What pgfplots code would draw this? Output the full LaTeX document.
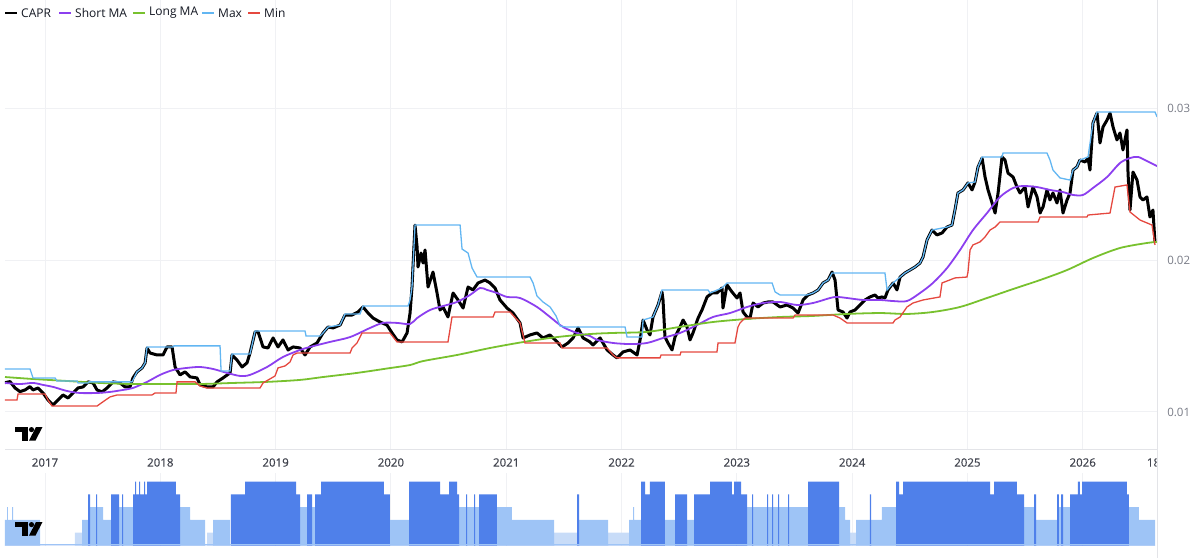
\documentclass[border=0pt]{standalone}
\usepackage{pgfplots}
\pgfplotsset{compat=1.18}
\usepackage{fontspec}
\setmainfont{Open Sans}
\definecolor{capr}{HTML}{000000}
\definecolor{shortma}{HTML}{8C3FEF}
\definecolor{longma}{HTML}{78C12E}
\definecolor{maxc}{HTML}{62B6F2}
\definecolor{minc}{HTML}{E5483F}
\definecolor{gridc}{HTML}{F0F1F4}
\definecolor{sepc}{HTML}{E3E4E8}
\definecolor{darkbar}{HTML}{4F80EA}
\definecolor{lightbar}{HTML}{9EC4F6}
\definecolor{lightestbar}{HTML}{C8DCF8}
\definecolor{txt}{HTML}{131722}
\definecolor{axtxt}{HTML}{42454F}
\definecolor{ytxt}{HTML}{787B86}
\begin{document}
\begin{tikzpicture}[x=1pt,y=1pt]
\useasboundingbox (0,0) rectangle (1200,558);
% ---------------- main pane ----------------
\begin{axis}[
  at={(5pt,109pt)}, anchor=south west, scale only axis,
  width=1152pt, height=449pt,
  xmin=2016.653, xmax=2026.645, ymin=0.007564, ymax=0.037108,
  axis line style={draw=none}, major tick length=0pt,
  xtick={2017,2018,2019,2020,2021,2022,2023,2024,2025,2026},
  xticklabels={2017,2018,2019,2020,2021,2022,2023,2024,2025,2026},
  ytick={0.01,0.02,0.03}, yticklabels={0.01,0.02,0.03},
  yticklabel pos=right,
  grid=major, grid style={gridc, line width=1pt},
  xticklabel style={anchor=center, yshift=-13.5pt, font=\fontsize{11.5}{13}\selectfont\addfontfeatures{FakeBold=0.6}, text=axtxt},
  yticklabel style={anchor=west, inner sep=0pt, xshift=10pt, font=\fontsize{11.5}{13}\selectfont, text=ytxt},
]
% CAPR
\addplot[capr, line width=3pt, line join=round] coordinates {
(2016.653,0.01193)(2016.697,0.01200)(2016.740,0.01158)(2016.783,0.01134)(2016.827,0.01145)(2016.870,0.01167)(2016.896,0.01145)(2016.940,0.01158)(2016.983,0.01125)(2017.026,0.01079)(2017.070,0.01046)(2017.113,0.01079)(2017.156,0.01112)(2017.200,0.01092)(2017.243,0.01125)(2017.286,0.01158)(2017.330,0.01165)(2017.373,0.01198)(2017.417,0.01191)(2017.451,0.01145)(2017.495,0.01132)(2017.538,0.01158)(2017.590,0.01198)(2017.651,0.01191)(2017.694,0.01165)(2017.737,0.01165)(2017.763,0.01224)(2017.798,0.01264)(2017.842,0.01290)(2017.868,0.01323)(2017.885,0.01421)(2017.911,0.01388)(2017.972,0.01375)(2018.024,0.01375)(2018.058,0.01428)(2018.102,0.01428)(2018.128,0.01296)(2018.171,0.01244)(2018.214,0.01264)(2018.258,0.01231)(2018.318,0.01224)(2018.345,0.01178)(2018.405,0.01165)(2018.457,0.01165)(2018.492,0.01198)(2018.544,0.01224)(2018.605,0.01257)(2018.622,0.01375)(2018.665,0.01342)(2018.709,0.01296)(2018.752,0.01323)(2018.778,0.01388)(2018.822,0.01527)(2018.848,0.01527)(2018.891,0.01428)(2018.934,0.01421)(2018.978,0.01487)(2019.021,0.01428)(2019.064,0.01474)(2019.108,0.01408)(2019.151,0.01428)(2019.212,0.01421)(2019.255,0.01375)(2019.299,0.01428)(2019.359,0.01454)(2019.411,0.01520)(2019.455,0.01559)(2019.498,0.01553)(2019.559,0.01572)(2019.602,0.01638)(2019.663,0.01638)(2019.715,0.01658)(2019.758,0.01691)(2019.802,0.01651)(2019.845,0.01618)(2019.906,0.01592)(2019.966,0.01572)(2020.010,0.01520)(2020.053,0.01474)(2020.097,0.01461)(2020.140,0.01520)(2020.166,0.01651)(2020.183,0.01822)(2020.209,0.02230)(2020.227,0.02086)(2020.235,0.01954)(2020.261,0.02046)(2020.279,0.01980)(2020.296,0.02066)(2020.322,0.01822)(2020.365,0.01921)(2020.400,0.01783)(2020.426,0.01671)(2020.452,0.01691)(2020.495,0.01625)(2020.539,0.01783)(2020.582,0.01737)(2020.626,0.01684)(2020.669,0.01822)(2020.712,0.01803)(2020.756,0.01849)(2020.816,0.01868)(2020.860,0.01849)(2020.903,0.01816)(2020.946,0.01737)(2021.007,0.01684)(2021.059,0.01651)(2021.120,0.01586)(2021.146,0.01487)(2021.207,0.01507)(2021.267,0.01520)(2021.319,0.01487)(2021.380,0.01507)(2021.441,0.01461)(2021.484,0.01428)(2021.536,0.01454)(2021.580,0.01487)(2021.623,0.01553)(2021.667,0.01487)(2021.727,0.01461)(2021.753,0.01441)(2021.814,0.01487)(2021.875,0.01408)(2021.927,0.01375)(2021.961,0.01356)(2022.013,0.01395)(2022.074,0.01408)(2022.135,0.01375)(2022.161,0.01474)(2022.187,0.01605)(2022.221,0.01540)(2022.247,0.01507)(2022.273,0.01625)(2022.317,0.01704)(2022.351,0.01790)(2022.360,0.01737)(2022.377,0.01493)(2022.403,0.01454)(2022.438,0.01408)(2022.464,0.01493)(2022.508,0.01560)(2022.534,0.01605)(2022.568,0.01560)(2022.594,0.01474)(2022.620,0.01520)(2022.664,0.01618)(2022.698,0.01671)(2022.742,0.01757)(2022.785,0.01783)(2022.828,0.01783)(2022.872,0.01816)(2022.880,0.01684)(2022.915,0.01836)(2022.958,0.01790)(2023.002,0.01750)(2023.028,0.01783)(2023.054,0.01658)(2023.089,0.01625)(2023.115,0.01618)(2023.141,0.01717)(2023.184,0.01691)(2023.228,0.01717)(2023.271,0.01724)(2023.314,0.01724)(2023.375,0.01691)(2023.436,0.01704)(2023.488,0.01684)(2023.531,0.01651)(2023.575,0.01737)(2023.618,0.01770)(2023.661,0.01783)(2023.705,0.01803)(2023.748,0.01849)(2023.792,0.01868)(2023.826,0.01921)(2023.852,0.01868)(2023.878,0.01671)(2023.921,0.01658)(2023.956,0.01618)(2023.982,0.01658)(2024.025,0.01671)(2024.069,0.01704)(2024.112,0.01737)(2024.155,0.01757)(2024.199,0.01770)(2024.225,0.01750)(2024.260,0.01757)(2024.285,0.01750)(2024.311,0.01803)(2024.355,0.01849)(2024.389,0.01803)(2024.416,0.01888)(2024.459,0.01915)(2024.502,0.01934)(2024.546,0.01954)(2024.589,0.01980)(2024.615,0.02020)(2024.650,0.02132)(2024.693,0.02197)(2024.736,0.02165)(2024.780,0.02178)(2024.823,0.02217)(2024.866,0.02230)(2024.892,0.02329)(2024.918,0.02441)(2024.962,0.02461)(2025.005,0.02507)(2025.040,0.02461)(2025.066,0.02513)(2025.092,0.02612)(2025.127,0.02671)(2025.153,0.02546)(2025.179,0.02461)(2025.214,0.02375)(2025.240,0.02309)(2025.266,0.02441)(2025.300,0.02678)(2025.326,0.02658)(2025.352,0.02572)(2025.396,0.02546)(2025.430,0.02480)(2025.456,0.02441)(2025.500,0.02480)(2025.526,0.02349)(2025.569,0.02480)(2025.604,0.02415)(2025.630,0.02309)(2025.656,0.02349)(2025.690,0.02461)(2025.716,0.02395)(2025.742,0.02441)(2025.777,0.02375)(2025.803,0.02461)(2025.829,0.02309)(2025.864,0.02395)(2025.890,0.02441)(2025.916,0.02592)(2025.950,0.02612)(2025.976,0.02658)(2026.020,0.02645)(2026.046,0.02671)(2026.063,0.02592)(2026.089,0.02902)(2026.124,0.02967)(2026.150,0.02770)(2026.176,0.02875)(2026.211,0.02921)(2026.237,0.02967)(2026.263,0.02875)(2026.297,0.02790)(2026.323,0.02836)(2026.349,0.02724)(2026.384,0.02856)(2026.393,0.02572)(2026.410,0.02329)(2026.436,0.02579)(2026.471,0.02526)(2026.497,0.02415)(2026.523,0.02395)(2026.557,0.02415)(2026.583,0.02283)(2026.609,0.02329)(2026.627,0.02112)
};
% Short MA
\addplot[shortma, line width=1.8pt, smooth] coordinates {
(2016.653,0.01191)(2016.783,0.01184)(2016.896,0.01191)(2016.983,0.01178)(2017.070,0.01165)(2017.191,0.01138)(2017.304,0.01125)(2017.451,0.01125)(2017.564,0.01132)(2017.677,0.01145)(2017.763,0.01158)(2017.885,0.01198)(2017.998,0.01244)(2018.110,0.01276)(2018.232,0.01290)(2018.345,0.01296)(2018.457,0.01283)(2018.579,0.01257)(2018.692,0.01237)(2018.778,0.01244)(2018.926,0.01296)(2019.064,0.01362)(2019.212,0.01408)(2019.299,0.01428)(2019.472,0.01461)(2019.646,0.01493)(2019.819,0.01553)(2019.932,0.01586)(2020.053,0.01586)(2020.166,0.01579)(2020.227,0.01618)(2020.339,0.01671)(2020.452,0.01697)(2020.573,0.01724)(2020.686,0.01770)(2020.773,0.01816)(2020.834,0.01803)(2020.920,0.01783)(2021.007,0.01757)(2021.120,0.01750)(2021.267,0.01691)(2021.380,0.01625)(2021.493,0.01559)(2021.614,0.01520)(2021.727,0.01500)(2021.788,0.01474)(2021.927,0.01454)(2022.074,0.01447)(2022.221,0.01454)(2022.360,0.01487)(2022.508,0.01520)(2022.655,0.01572)(2022.793,0.01625)(2022.941,0.01651)(2023.089,0.01691)(2023.228,0.01717)(2023.375,0.01724)(2023.522,0.01704)(2023.661,0.01717)(2023.809,0.01750)(2023.869,0.01757)(2023.956,0.01750)(2024.095,0.01737)(2024.242,0.01737)(2024.355,0.01730)(2024.476,0.01730)(2024.589,0.01783)(2024.701,0.01849)(2024.823,0.01947)(2024.936,0.02066)(2025.048,0.02197)(2025.170,0.02309)(2025.283,0.02415)(2025.396,0.02474)(2025.482,0.02487)(2025.604,0.02480)(2025.716,0.02461)(2025.829,0.02447)(2025.916,0.02428)(2026.002,0.02428)(2026.089,0.02474)(2026.211,0.02546)(2026.323,0.02638)(2026.410,0.02671)(2026.480,0.02678)(2026.557,0.02651)(2026.645,0.02618)
};
% Long MA
\addplot[longma, line width=1.8pt, smooth] coordinates {
(2016.653,0.01230)(2016.896,0.01217)(2017.191,0.01204)(2017.477,0.01191)(2017.763,0.01184)(2018.058,0.01184)(2018.345,0.01184)(2018.631,0.01191)(2018.926,0.01198)(2019.212,0.01211)(2019.411,0.01230)(2019.706,0.01257)(2019.992,0.01289)(2020.166,0.01309)(2020.279,0.01335)(2020.573,0.01375)(2020.860,0.01421)(2021.146,0.01460)(2021.441,0.01493)(2021.727,0.01513)(2021.927,0.01520)(2022.221,0.01527)(2022.508,0.01560)(2022.793,0.01592)(2023.089,0.01612)(2023.375,0.01625)(2023.661,0.01632)(2023.956,0.01645)(2024.242,0.01651)(2024.476,0.01645)(2024.701,0.01658)(2024.936,0.01691)(2025.170,0.01750)(2025.396,0.01809)(2025.630,0.01868)(2025.864,0.01934)(2026.089,0.02013)(2026.323,0.02079)(2026.557,0.02112)(2026.645,0.02119)
};
% Max
\addplot[maxc, line width=1.3pt] coordinates {
(2016.653,0.01283)(2016.870,0.01283)(2016.896,0.01224)(2017.087,0.01224)(2017.104,0.01204)(2017.278,0.01204)(2017.286,0.01191)(2017.373,0.01191)(2017.382,0.01198)(2017.755,0.01198)(2017.798,0.01264)(2017.842,0.01290)(2017.868,0.01323)(2017.885,0.01428)(2018.110,0.01428)(2018.119,0.01435)(2018.518,0.01435)(2018.527,0.01270)(2018.605,0.01270)(2018.622,0.01382)(2018.778,0.01382)(2018.796,0.01441)(2018.822,0.01533)(2019.255,0.01533)(2019.264,0.01500)(2019.385,0.01500)(2019.411,0.01520)(2019.455,0.01559)(2019.559,0.01572)(2019.602,0.01645)(2019.732,0.01645)(2019.758,0.01697)(2020.149,0.01697)(2020.166,0.01737)(2020.183,0.01822)(2020.209,0.02230)(2020.600,0.02230)(2020.617,0.02072)(2020.669,0.02046)(2020.704,0.01947)(2020.747,0.01888)(2021.207,0.01888)(2021.233,0.01849)(2021.267,0.01763)(2021.319,0.01724)(2021.380,0.01691)(2021.432,0.01632)(2021.467,0.01566)(2021.519,0.01559)(2022.031,0.01559)(2022.048,0.01493)(2022.178,0.01493)(2022.187,0.01605)(2022.273,0.01625)(2022.317,0.01704)(2022.351,0.01803)(2022.750,0.01803)(2022.768,0.01783)(2022.872,0.01816)(2022.915,0.01849)(2023.306,0.01849)(2023.332,0.01790)(2023.375,0.01770)(2023.609,0.01770)(2023.661,0.01783)(2023.705,0.01803)(2023.748,0.01849)(2023.792,0.01868)(2023.826,0.01914)(2024.285,0.01914)(2024.303,0.01803)(2024.355,0.01849)(2024.416,0.01888)(2024.459,0.01915)(2024.502,0.01934)(2024.546,0.01954)(2024.589,0.01980)(2024.615,0.02020)(2024.650,0.02132)(2024.693,0.02197)(2024.823,0.02217)(2024.866,0.02230)(2024.892,0.02329)(2024.918,0.02441)(2024.962,0.02461)(2025.005,0.02507)(2025.066,0.02513)(2025.092,0.02612)(2025.127,0.02678)(2025.300,0.02678)(2025.309,0.02704)(2025.690,0.02704)(2025.716,0.02658)(2025.742,0.02592)(2025.803,0.02540)(2025.890,0.02526)(2025.916,0.02592)(2025.950,0.02612)(2025.976,0.02658)(2026.046,0.02678)(2026.089,0.02902)(2026.124,0.02974)(2026.627,0.02974)(2026.645,0.02941)
};
% Min
\addplot[minc, line width=1.3pt] coordinates {
(2016.653,0.01079)(2016.757,0.01079)(2016.766,0.01118)(2017.000,0.01118)(2017.026,0.01079)(2017.061,0.01039)(2017.451,0.01039)(2017.477,0.01053)(2017.512,0.01072)(2017.564,0.01099)(2017.625,0.01112)(2017.928,0.01112)(2017.954,0.01125)(2018.136,0.01125)(2018.145,0.01198)(2018.301,0.01198)(2018.345,0.01171)(2018.405,0.01158)(2018.865,0.01158)(2018.891,0.01191)(2018.995,0.01237)(2019.021,0.01290)(2019.082,0.01303)(2019.125,0.01329)(2019.151,0.01375)(2019.186,0.01388)(2019.646,0.01388)(2019.663,0.01421)(2019.706,0.01454)(2019.750,0.01520)(2019.992,0.01520)(2020.053,0.01461)(2020.495,0.01461)(2020.530,0.01625)(2020.886,0.01625)(2020.903,0.01658)(2021.033,0.01658)(2021.120,0.01586)(2021.163,0.01454)(2021.467,0.01454)(2021.484,0.01421)(2021.875,0.01421)(2021.927,0.01375)(2021.961,0.01356)(2022.334,0.01356)(2022.343,0.01375)(2022.508,0.01375)(2022.516,0.01395)(2022.828,0.01395)(2022.837,0.01454)(2022.984,0.01454)(2023.010,0.01559)(2023.028,0.01586)(2023.054,0.01605)(2023.071,0.01618)(2023.488,0.01618)(2023.505,0.01638)(2023.835,0.01638)(2023.895,0.01618)(2023.956,0.01586)(2024.355,0.01586)(2024.372,0.01605)(2024.416,0.01625)(2024.476,0.01691)(2024.528,0.01717)(2024.615,0.01737)(2024.762,0.01757)(2024.780,0.01849)(2024.892,0.01882)(2024.996,0.01888)(2025.005,0.01921)(2025.023,0.02066)(2025.048,0.02099)(2025.109,0.02119)(2025.153,0.02152)(2025.196,0.02197)(2025.240,0.02217)(2025.283,0.02250)(2025.612,0.02250)(2025.630,0.02283)(2026.037,0.02283)(2026.046,0.02296)(2026.237,0.02309)(2026.280,0.02480)(2026.384,0.02494)(2026.410,0.02316)(2026.497,0.02263)(2026.601,0.02230)(2026.627,0.02099)
};
\end{axis}
% ---------------- lower pane ----------------
\begin{axis}[
  at={(5pt,12.5pt)}, anchor=south west, scale only axis,
  width=1152pt, height=72.5pt,
  xmin=2016.653, xmax=2026.645, ymin=0, ymax=5.682,
  axis line style={draw=none}, major tick length=0pt,
  xtick={2017,2018,2019,2020,2021,2022,2023,2024,2025,2026}, xticklabels={},
  ytick=\empty,
  xmajorgrids, grid style={gridc, line width=1pt},
]
\addplot[const plot, fill=lightestbar, draw=none] coordinates {
(2016.653,0)(2017.260,1)(2017.321,0)(2018.405,1)(2018.457,0)(2021.415,1)(2021.614,0)(2021.883,1)(2022.065,0)(2023.982,1)(2024.034,0)(2026.627,0)
} \closedcycle;
\addplot[const plot, fill=lightbar, draw=none] coordinates {
(2016.653,2)(2016.671,3)(2016.679,2)(2016.714,3)(2016.723,2)(2016.957,0)(2017.321,2)(2017.373,0)(2017.391,3)(2017.443,0)(2017.451,3)(2017.503,2)(2017.573,0)(2017.642,3)(2017.668,0)(2017.677,3)(2017.764,0)(2018.171,3)(2018.258,2)(2018.388,0)(2018.457,2)(2018.605,0)(2019.212,3)(2019.273,0)(2019.316,3)(2019.342,0)(2019.992,2)(2020.157,0)(2020.591,3)(2020.652,0)(2020.660,3)(2020.721,0)(2020.730,3)(2020.764,0)(2020.920,3)(2021.050,2)(2021.415,0)(2021.632,2)(2021.883,0)(2022.065,2)(2022.100,3)(2022.109,2)(2022.169,0)(2022.377,2)(2022.464,0)(2022.568,2)(2022.629,0)(2023.089,3)(2023.132,0)(2023.141,3)(2023.262,0)(2023.271,3)(2023.306,0)(2023.314,3)(2023.358,0)(2023.366,3)(2023.444,0)(2023.453,3)(2023.618,0)(2023.887,3)(2023.939,2)(2023.982,0)(2024.034,2)(2024.155,0)(2024.164,2)(2024.259,3)(2024.381,0)(2025.491,3)(2025.578,0)(2025.595,2)(2025.777,0)(2025.794,3)(2025.812,0)(2025.829,3)(2025.890,0)(2026.401,3)(2026.488,2)(2026.627,0)
} \closedcycle;
\addplot[const plot, fill=darkbar, draw=none] coordinates {
(2016.653,0)(2017.373,4)(2017.391,0)(2017.443,4)(2017.451,0)(2017.573,4)(2017.642,0)(2017.668,4)(2017.677,0)(2017.764,4)(2017.781,5)(2017.790,4)(2017.816,5)(2017.824,4)(2017.859,5)(2017.868,4)(2017.885,5)(2018.136,4)(2018.171,0)(2018.613,4)(2018.735,5)(2019.177,4)(2019.212,0)(2019.273,4)(2019.316,0)(2019.342,4)(2019.394,5)(2019.940,4)(2019.992,0)(2020.157,5)(2020.426,4)(2020.504,5)(2020.574,4)(2020.591,0)(2020.652,4)(2020.660,0)(2020.721,4)(2020.730,0)(2020.764,4)(2020.920,0)(2021.614,4)(2021.632,0)(2022.169,5)(2022.204,4)(2022.247,5)(2022.377,0)(2022.464,4)(2022.568,0)(2022.629,4)(2022.768,5)(2022.958,4)(2022.976,5)(2023.037,4)(2023.089,0)(2023.132,4)(2023.141,0)(2023.262,4)(2023.271,0)(2023.306,4)(2023.314,0)(2023.358,4)(2023.366,0)(2023.444,4)(2023.453,0)(2023.618,5)(2023.887,0)(2024.155,4)(2024.164,0)(2024.381,5)(2024.407,4)(2024.442,5)(2025.196,4)(2025.231,5)(2025.430,4)(2025.491,0)(2025.578,4)(2025.595,0)(2025.777,4)(2025.794,0)(2025.812,4)(2025.829,0)(2025.890,4)(2025.959,5)(2025.976,4)(2025.994,5)(2026.384,4)(2026.401,0)(2026.627,0)
} \closedcycle;
\addplot[lightbar, line width=1pt] coordinates {(2016.653,0.04)(2026.627,0.04)};
\end{axis}
% ---------------- frame, legend, logos ----------------
\draw[sepc, line width=1pt] (5,109) -- (1157,109);
\draw[sepc, line width=1pt] (1157,0) -- (1157,558);
\begin{scope}
\clip (1100,80) rectangle (1156.5,110);
\node[font=\fontsize{11.5}{13}\selectfont\addfontfeatures{FakeBold=0.6}, text=axtxt, inner sep=0pt] at (1153.5,95.5) {18};
\end{scope}
% legend
\begin{scope}[font=\fontsize{12}{14}\selectfont, text=txt]
\draw[capr, line width=2pt] (5,545) -- (17,545);
\node[anchor=west, inner sep=0pt] at (21,545) {CAPR};
\draw[shortma, line width=2pt] (59,545) -- (71,545);
\node[anchor=west, inner sep=0pt] at (75,545) {Short MA};
\draw[longma, line width=2pt] (133,545) -- (145,545);
\node[anchor=west, inner sep=0pt] at (149,545) {Long MA};
\draw[maxc, line width=2pt] (202,545) -- (214,545);
\node[anchor=west, inner sep=0pt] at (218,545) {Max};
\draw[minc, line width=2pt] (248,545) -- (260,545);
\node[anchor=west, inner sep=0pt] at (264,545) {Min};
\end{scope}
% logos
\foreach \yt in {131,36}{
  \fill[black] (15,\yt) rectangle (28,\yt-5);
  \fill[black] (22,\yt) rectangle (28,\yt-13.5);
  \fill[black] (31.5,\yt-2.6) circle (2.6);
  \fill[black] (36,\yt) -- (42.5,\yt) -- (35.5,\yt-13.5) -- (29,\yt-13.5) -- cycle;
}
\end{tikzpicture}
\end{document}
